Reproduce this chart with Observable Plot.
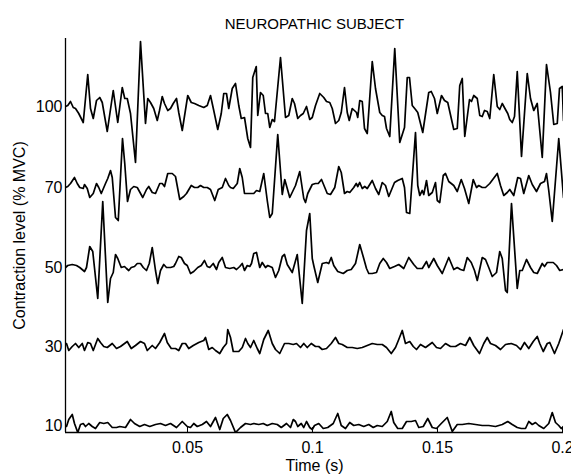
<!DOCTYPE html>
<html>
<head>
<meta charset="utf-8">
<script src="https://cdn.jsdelivr.net/npm/d3@7"></script>
<script src="https://cdn.jsdelivr.net/npm/@observablehq/plot@0.6"></script>
<style>
  html, body { margin: 0; padding: 0; background: #fff; overflow: hidden; }
  #chart svg { display: block; }
</style>
</head>
<body>
<div id="chart"></div>
<script>
// ---- text ----
const title = "NEUROPATHIC SUBJECT";
const xLabel = "Time (s)";
const yLabel = "Contraction level (% MVC)";

// ---- categories / ticks ----
const levels = [10, 30, 50, 70, 100];          // contraction levels (% MVC)
const xTicks = [0.05, 0.1, 0.15, 0.2];          // seconds

// ---- series: time (ms) and amplitude (display units) per contraction level ----
const t10 = [1.6,2.5,3.9,4.8,6.1,7.2,8.3,9.2,10.5,11.9,13.2,14.9,16.5,18.1,19.9,21.6,22.9,25.2,27.2,28.8,30.9,32.8,34.9,37.2,39.2,41.2,43.2,45.6,47.9,49.9,51.2,52.5,53.9,55.9,57.6,59.2,61.2,62.9,64.3,65.9,67.2,69.2,71.2,73.2,75.2,76.5,78.5,80.3,81.9,83.9,85.9,87.5,89.6,91.2,92.3,93.2,94.1,95.5,96.5,97.6,98.9,99.9,100.8,102.5,104.3,106.1,108.3,110.1,111.5,113.2,114.9,116.5,118.5,120.5,122.5,124.3,125.9,127.9,129.9,131.5,132.5,134.1,135.9,137.6,139.5,141.2,142.5,144.3,146.1,147.9,149.6,151.5,153.9,155.9,157.9,159.9,162.5,165.2,167.9,170.5,173.2,175.9,178.1,179.9,181.9,183.5,185.2,186.5,187.9,189.2,190.5,192.5,194.5,195.9,197.2,198.5,199.5,200.3];
const a10 = [-2,5,10,1,-8,0,1,-2,1,-2,-4,2,1,2,-3,-3,-2,-3,5,1,-2,0,-2,0,1,-1,1,-3,3,-2,-3,1,-2,0,3,-2,7,-5,6,10,4,-8,-3,1,0,1,0,1,-1,1,0,-3,1,-3,5,3,-2,1,-3,3,-3,-5,-1,1,-4,-3,1,11,-1,-4,2,-1,0,-2,0,-3,-1,-2,3,13,2,-4,-4,3,3,4,-3,-2,6,-3,-4,1,7,-7,0,0,1,0,-1,-1,-2,0,3,0,-3,-4,-4,3,0,2,-1,-4,1,12,2,-1,-4,-2];

const t30 = [1.6,2.5,3.9,5.2,6.5,7.9,8.8,10.1,11.2,12.3,14.1,15.2,16.5,17.9,19.9,21.6,23.2,25.9,27.5,29.2,31.2,32.8,33.9,35.9,37.2,38.9,40.8,41.9,43.5,45.2,46.5,47.9,49.2,50.5,52.3,54.5,56.5,57.2,58.5,59.9,61.2,62.9,64.3,65.6,66.1,67.2,68.3,70.5,71.9,73.2,74.1,75.2,76.5,77.9,78.9,80.5,82.3,83.9,85.2,86.9,88.8,90.5,92.3,93.6,95.2,96.5,97.9,99.5,101.2,102.5,103.9,105.6,107.5,109.2,110.5,111.9,113.9,115.9,117.9,119.9,121.9,123.9,125.9,127.9,129.6,131.5,133.2,134.5,135.9,137.2,138.9,140.3,141.6,143.2,145.2,147.9,149.6,151.2,153.2,155.2,157.2,159.2,161.2,162.9,164.5,166.8,168.5,169.9,171.2,173.2,175.2,177.2,179.5,181.6,183.2,184.8,186.5,188.3,189.9,190.9,192.3,193.9,194.9,196.8,198.5,200.4];
const a30 = [1,-6,-2,1,-3,1,-6,2,1,-6,6,2,-2,-3,1,-4,-2,3,-4,-1,3,1,-6,-1,-4,2,11,2,-4,-4,-6,1,1,-4,-1,2,4,7,-5,-3,-6,-9,-3,1,15,7,-7,-7,-3,6,1,-3,4,-4,-9,5,14,1,-5,-9,1,1,0,1,-3,1,-3,1,-2,-2,-5,-4,1,7,1,0,-3,-3,-4,-3,-1,1,0,0,-3,-9,-3,5,14,1,3,-2,-5,0,-3,2,-3,-4,1,-2,-2,1,-1,7,-1,-9,1,7,1,-1,-5,0,1,-1,-5,2,-4,3,8,1,-7,1,2,-9,1,15];

const t50 = [1.2,2.1,3.9,5.6,6.9,8.8,9.6,10.9,12.1,14.1,16.1,18.1,19.2,20.3,21.2,22.1,23.5,24.8,25.6,26.5,27.5,28.8,29.9,31.2,32.3,33.6,34.7,35.9,37.2,38.1,39.2,40.5,41.6,43.2,44.5,45.2,46.5,47.5,48.8,49.9,51.2,52.5,54.1,55.5,56.8,57.9,58.9,60.3,61.6,62.5,63.9,65.2,66.9,68.5,69.6,70.9,71.9,72.8,73.9,74.9,75.6,76.5,77.6,78.9,79.9,81.2,82.1,83.9,85.2,86.5,87.9,88.8,89.9,91.9,93.9,95.9,97.6,98.9,99.9,100.5,102.1,103.9,105.6,106.5,107.5,108.5,110.1,112.3,113.9,115.5,117.2,118.9,120.5,121.6,122.5,123.9,125.6,126.9,128.3,129.6,130.9,132.8,134.5,136.5,138.5,140.5,141.9,143.9,145.6,146.5,148.5,149.9,151.9,154.5,156.5,157.9,159.2,160.5,161.9,163.5,164.8,165.9,167.9,169.2,170.5,171.9,173.6,174.9,175.9,177.2,177.9,179.6,181.9,182.9,183.9,185.6,187.2,188.5,189.9,191.9,192.8,193.9,196.3,197.6,198.9,200.3];
const a50 = [-1,1,2,1,-1,-5,-1,20,15,-32,65,-36,-12,-6,12,8,-1,0,-2,-4,-1,0,3,3,-1,-4,3,19,-4,-17,-4,2,-1,-1,0,3,10,9,3,1,-7,-5,-1,1,6,0,-1,3,-3,4,9,-1,-2,-1,-3,0,3,-4,1,0,3,13,14,-1,4,-1,1,-1,-11,-4,10,12,2,-6,12,-37,36,53,8,1,-16,3,4,3,9,1,-5,-7,-4,-3,3,22,8,-2,-7,-7,-6,3,8,4,-2,0,2,-2,9,2,-2,-2,5,-1,8,1,-7,9,-3,-1,-3,-4,9,4,-4,-14,9,7,-1,-10,-6,15,8,-24,-26,63,-22,-4,-4,7,-1,-6,-7,3,0,4,4,1,-4,-3];

const t70 = [1.2,2.1,3.2,4.8,5.9,6.9,8.3,8.8,9.9,10.9,12.3,13.6,14.5,15.5,17.2,18.1,19.2,19.9,21.2,22.3,24.0,24.9,26.0,27.2,28.5,29.9,32.1,33.6,34.5,35.9,37.2,38.9,39.9,40.8,42.1,43.9,45.2,46.9,48.5,49.6,51.5,52.8,54.1,55.2,56.5,57.9,59.2,60.9,62.3,63.9,65.2,66.5,67.2,68.3,69.9,70.9,71.9,72.8,75.2,76.5,77.6,78.9,80.5,81.9,82.9,83.9,86.1,87.9,88.9,89.9,90.9,93.2,94.9,96.5,97.2,98.1,99.9,101.2,102.3,103.6,105.9,107.2,108.9,110.5,111.5,112.8,113.9,114.9,116.5,117.5,118.1,118.9,119.9,120.9,121.9,123.9,125.2,126.5,127.9,129.2,130.5,132.8,134.1,135.9,136.8,137.6,138.9,141.2,142.1,142.9,143.9,144.5,145.6,146.5,147.9,149.2,149.9,150.9,152.3,153.2,154.5,156.5,157.9,159.5,160.8,162.5,164.3,165.6,166.5,167.9,169.2,170.9,173.9,175.2,176.5,177.9,178.9,180.5,182.1,183.2,184.5,186.5,187.9,189.6,191.2,192.8,193.6,194.5,195.9,198.5,200.4];
const a70 = [-1,0,3,9,3,-1,-2,2,-2,-11,-7,3,-1,-7,3,8,16,9,-31,-34,48,23,-15,-3,0,-1,-11,-3,0,-6,-7,3,3,0,13,13,10,-13,-10,-7,1,-1,-1,1,-1,-1,-3,-14,-3,-1,8,1,-1,-2,3,18,9,-7,-7,-7,-4,-5,13,-14,-31,-27,52,-8,7,-2,-11,1,15,-12,-16,-7,2,3,3,7,-7,-8,-1,20,14,-7,-5,-6,-1,3,0,4,-2,0,-2,6,-2,-8,4,1,-10,4,6,8,-1,-26,-27,54,1,-9,-4,-8,6,-9,-6,4,-14,-16,11,13,5,1,-5,7,-2,-17,7,-1,1,-1,-1,3,13,1,-9,-6,-3,-9,9,8,-7,11,2,-5,3,5,13,-4,-35,48,-11];

const t100 = [1.2,2.1,3.2,4.3,5.2,6.5,8.3,10.1,11.2,12.3,13.6,14.9,15.9,17.9,20.3,22.1,23.9,24.9,25.9,27.2,29.2,31.2,33.2,34.1,35.2,36.5,37.9,38.8,39.9,40.8,42.1,43.2,44.3,45.6,46.5,47.9,50.1,51.5,52.8,54.5,56.5,57.9,59.2,60.5,62.1,63.5,64.5,65.6,66.5,67.9,69.2,70.5,71.5,72.8,74.1,75.2,76.1,77.5,78.1,79.2,80.3,81.2,82.1,82.9,83.9,84.8,87.2,89.2,90.5,91.9,92.8,94.1,95.2,96.3,97.6,98.9,99.9,101.2,102.9,104.5,105.6,106.9,107.9,109.2,110.5,111.5,112.8,113.9,114.7,115.9,117.6,118.1,118.9,119.9,120.8,121.9,123.9,125.2,126.9,127.9,128.8,129.6,130.9,132.9,134.9,136.8,137.9,138.8,139.9,141.2,142.1,144.1,146.5,147.5,148.8,149.9,151.6,152.8,154.1,156.5,157.9,158.9,159.9,160.9,162.8,163.6,164.5,165.9,166.9,167.9,168.8,169.9,170.9,172.5,173.9,174.9,175.9,177.2,178.1,178.9,179.9,180.8,181.9,183.6,185.9,187.2,188.5,189.9,191.9,193.6,195.2,196.5,197.9,198.8,199.9,200.4];
const a100 = [-4,-3,1,-5,-6,-11,-20,28,-6,-16,2,5,0,-29,12,-20,15,4,4,-11,-60,61,-21,4,0,-6,-18,-8,6,-1,-8,-6,-1,4,-10,-28,7,0,-1,-3,-5,-3,7,-8,-27,-11,9,9,-6,14,19,-3,-16,-15,-36,-45,25,36,-13,10,7,-11,-11,-25,-17,-19,45,-15,-13,4,-1,-16,-13,-11,-4,-17,-15,-3,9,5,1,0,-6,-21,-18,-10,15,-10,-18,-6,-10,-15,2,1,-26,-31,41,14,-10,-13,-14,-26,-34,54,-40,-25,25,25,-3,-7,-10,-30,10,11,4,-11,7,2,0,-27,-26,17,24,-34,3,1,7,4,-13,-14,-8,-9,-16,28,-4,-7,-1,-7,-11,-17,-20,-14,31,-54,29,4,-8,-1,-55,38,10,-22,-21,14,16,-18];

// ---- layout (not data): vertical stacking of the traces and their tick labels ----
const traceOffset = [0, 80, 158, 238, 322];
const tickOffset  = [-1, 78, 157, 237, 318];

const series = [
  {level: 10, t: t10, a: a10},
  {level: 30, t: t30, a: a30},
  {level: 50, t: t50, a: a50},
  {level: 70, t: t70, a: a70},
  {level: 100, t: t100, a: a100}
];

const rows = [];
series.forEach((s, k) => {
  s.t.forEach((t, i) => rows.push({level: s.level, time: t / 1000, y: s.a[i] + traceOffset[k]}));
});

const yDomain = [-8, 386];
const xDomain = [0.0012, 0.2004];
const tickLabel = new Map(tickOffset.map((p, i) => [p, String(levels[i])]));

const chart = Plot.plot({
  width: 571,
  height: 476,
  marginTop: 38,
  marginRight: 8,
  marginBottom: 44,
  marginLeft: 65,
  style: {
    fontFamily: "'Liberation Sans', Arial, Helvetica, sans-serif",
    fontSize: "16px",
    color: "#000",
    background: "#fff",
    overflow: "hidden"
  },
  x: {domain: xDomain},
  y: {domain: yDomain},
  marks: [
    Plot.line(rows, {x: "time", y: "y", z: "level", stroke: "#000", strokeWidth: 1.7, strokeLinejoin: "round", clip: true}),
    Plot.ruleX([xDomain[0]], {stroke: "#000", strokeWidth: 1.3}),
    Plot.ruleY([yDomain[0]], {stroke: "#000", strokeWidth: 1.3}),
    Plot.ruleX(xTicks, {x: d => d, y1: yDomain[0], y2: yDomain[0] + 5, stroke: "#000", strokeWidth: 1}),
    Plot.axisX(xTicks, {tickSize: 0, tickPadding: 9, tickFormat: d => String(d), fontSize: 16, label: null}),
    Plot.axisY(tickOffset, {tickSize: 0, tickPadding: 3, tickFormat: d => tickLabel.get(d), fontSize: 16, label: null}),
    Plot.text([xLabel], {text: d => d, frameAnchor: "bottom", dy: 33, lineAnchor: "middle", textAnchor: "middle", fontSize: 16}),
    Plot.text([yLabel], {text: d => d, frameAnchor: "left", rotate: -90, dx: -46, lineAnchor: "middle", textAnchor: "middle", fontSize: 16}),
    Plot.text([title], {text: d => d, frameAnchor: "top", dy: -14, lineAnchor: "middle", textAnchor: "middle", fontSize: 15})
  ]
});

document.getElementById("chart").appendChild(chart);
</script>
</body>
</html>
